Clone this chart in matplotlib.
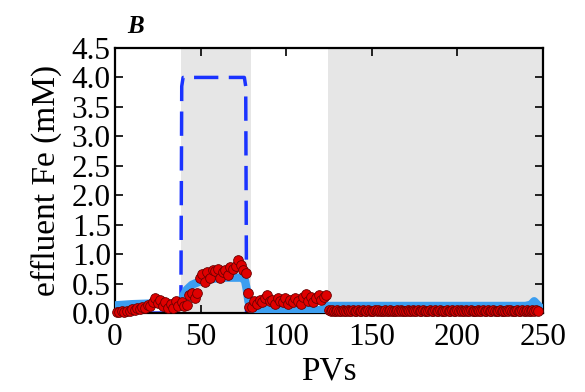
import numpy as np
import matplotlib
matplotlib.use("Agg")
import matplotlib.pyplot as plt

# Data (effluent Fe, mM, vs pore volumes)
# before the first injection
pv_1 = [1, 2.5, 4, 5.5, 7, 8.5, 10, 11.5, 13, 14.5, 16, 17.5, 19, 20.5, 22,
        23.5, 25, 26.5, 28, 29.5, 31, 32.5, 34, 35.5, 37]
fe_1 = [0.02, 0.02, 0.03, 0.02, 0.04, 0.03, 0.06, 0.05, 0.08, 0.07, 0.11,
        0.09, 0.14, 0.12, 0.18, 0.25, 0.17, 0.22, 0.12, 0.18, 0.08, 0.15,
        0.08, 0.2, 0.12]

# first shaded window
pv_2 = [39, 40.5, 42, 43.5, 45, 46.5, 48, 49.5, 51, 52.5, 54, 55.5, 57, 58.5,
        60, 61.5, 63, 64.5, 66, 67.5, 69, 70.5, 72, 73.5, 75, 76.5, 77.5,
        78.5]
fe_2 = [0.19, 0.12, 0.14, 0.3, 0.34, 0.25, 0.34, 0.6, 0.67, 0.53, 0.7, 0.6,
        0.73, 0.72, 0.75, 0.6, 0.7, 0.73, 0.65, 0.78, 0.74, 0.8, 0.9, 0.82,
        0.73, 0.68, 0.34, 0.1]

# between the windows
pv_3 = [80, 81.5, 83, 84.5, 86, 87.5, 89, 90.5, 92, 93.5, 95, 96.5, 98, 99.5,
        101, 102.5, 104, 105.5, 107, 108.5, 110, 111.5, 113, 114.5, 116,
        117.5, 119, 120.5, 122, 123.5]
fe_3 = [0.1, 0.2, 0.15, 0.22, 0.18, 0.25, 0.3, 0.2, 0.22, 0.15, 0.25, 0.2,
        0.18, 0.25, 0.15, 0.22, 0.18, 0.25, 0.2, 0.15, 0.28, 0.32, 0.2, 0.28,
        0.18, 0.25, 0.3, 0.22, 0.28, 0.3]

# second shaded window
pv_4 = [125, 126, 127, 128, 129, 130, 131, 132, 133, 134, 135, 136,
        137, 138, 139, 140, 141, 142, 143, 144, 145, 146, 147, 148,
        149, 150, 151, 152, 153, 154, 155, 156, 157, 158, 159, 160,
        161, 162, 163, 164, 165, 166, 167, 168, 169, 170, 171, 172,
        173, 174, 175, 176, 177, 178, 179, 180, 181, 182, 183, 184,
        185, 186, 187, 188, 189, 190, 191, 192, 193, 194, 195, 196,
        197, 198, 199, 200, 201, 202, 203, 204, 205, 206, 207, 208,
        209, 210, 211, 212, 213, 214, 215, 216, 217, 218, 219, 220,
        221, 222, 223, 224, 225, 226, 227, 228, 229, 230, 231, 232,
        233, 234, 235, 236, 237, 238, 239, 240, 241, 242, 243, 244,
        245, 246, 247]
fe_4 = [0.05, 0.04, 0.05, 0.03, 0.04, 0.05, 0.04, 0.03, 0.05, 0.04, 0.04, 0.05,
        0.03, 0.04, 0.05, 0.04, 0.03, 0.05, 0.04, 0.04, 0.05, 0.03, 0.04, 0.05,
        0.04, 0.04, 0.03, 0.05, 0.04, 0.05, 0.03, 0.04, 0.04, 0.05, 0.03, 0.04,
        0.05, 0.04, 0.04, 0.03, 0.05, 0.04, 0.05, 0.03, 0.04, 0.04, 0.05, 0.04,
        0.03, 0.05, 0.04, 0.04, 0.05, 0.03, 0.04, 0.05, 0.04, 0.03, 0.04, 0.05,
        0.04, 0.04, 0.05, 0.03, 0.04, 0.05, 0.04, 0.04, 0.03, 0.05, 0.04, 0.04,
        0.05, 0.03, 0.04, 0.05, 0.04, 0.05, 0.04, 0.03, 0.05, 0.04, 0.04, 0.05,
        0.03, 0.04, 0.04, 0.05, 0.03, 0.04, 0.05, 0.04, 0.03, 0.05, 0.04, 0.04,
        0.05, 0.04, 0.03, 0.04, 0.05, 0.04, 0.04, 0.03, 0.05, 0.04, 0.05, 0.04,
        0.03, 0.04, 0.05, 0.04, 0.04, 0.05, 0.03, 0.04, 0.05, 0.04, 0.04, 0.05,
        0.04, 0.05, 0.04]

# model curve
pv_model = [0, 5, 10, 20, 30, 37, 38.5, 40, 42, 45, 50, 55, 60, 65, 70, 74,
            76, 77, 78, 79, 80, 90, 100, 110, 120, 123, 124, 130, 150, 200,
            240, 243, 245, 247, 249]
fe_model = [0.13, 0.14, 0.15, 0.16, 0.16, 0.15, 0.18, 0.3, 0.4, 0.48, 0.54,
            0.57, 0.59, 0.6, 0.6, 0.6, 0.55, 0.4, 0.2, 0.1, 0.06, 0.05, 0.05,
            0.05, 0.05, 0.05, 0.12, 0.12, 0.12, 0.12, 0.12, 0.14, 0.2, 0.14,
            0.08]

# influent Fe (dashed)
pv_in = [0, 38.5, 39.0, 39.8, 75.6, 76.4, 76.9, 250]
fe_in = [0, 0, 3.85, 4.0, 4.0, 3.85, 0, 0]

# shaded windows
shade_spans = [(38.6, 79.2), (124.3, 250)]

xticks = [0, 50, 100, 150, 200, 250]
yticks = [0.0, 0.5, 1.0, 1.5, 2.0, 2.5, 3.0, 3.5, 4.0, 4.5]

plt.rcParams["font.family"] = ["Liberation Serif", "DejaVu Serif"]

fig = plt.figure(figsize=(5.85, 3.92), dpi=100)
ax = fig.add_axes([0.1966, 0.2015, 0.7311, 0.6761])

for a, b in shade_spans:
    ax.axvspan(a, b, color="#e6e6e6", lw=0, zorder=0)

ax.plot(pv_in, fe_in, color="#1a33ff", lw=2.5, dashes=(7, 3), zorder=2)
ax.plot(pv_model, fe_model, color="#3c9ef0", lw=6, solid_capstyle="round",
        zorder=3)

pv_obs = pv_1 + pv_2 + pv_3 + pv_4
fe_obs = fe_1 + fe_2 + fe_3 + fe_4
ax.plot(pv_obs, fe_obs, "o", color="#e00000", mec="#6a0000", mew=0.6,
        ms=7, zorder=4, clip_on=False)

ax.set_xlim(0, 250)
ax.set_ylim(0, 4.5)
ax.set_xticks(xticks)
ax.set_yticks(yticks)
ax.set_yticklabels([f"{v:.1f}" for v in yticks])
ax.tick_params(direction="in", length=6, width=1.2, labelsize=22.5,
               top=True, right=True)
ax.tick_params(axis="y", pad=3)
ax.tick_params(axis="x", pad=7)
for s in ax.spines.values():
    s.set_linewidth(1.6)

ax.set_xlabel("PVs", fontsize=24, labelpad=3)
ax.set_ylabel("effluent Fe (mM)", fontsize=24, labelpad=7)

fig.text(0.218, 0.915, "B", fontsize=18, fontweight="bold",
         fontstyle="italic")

fig.savefig("out.png", dpi=100)
